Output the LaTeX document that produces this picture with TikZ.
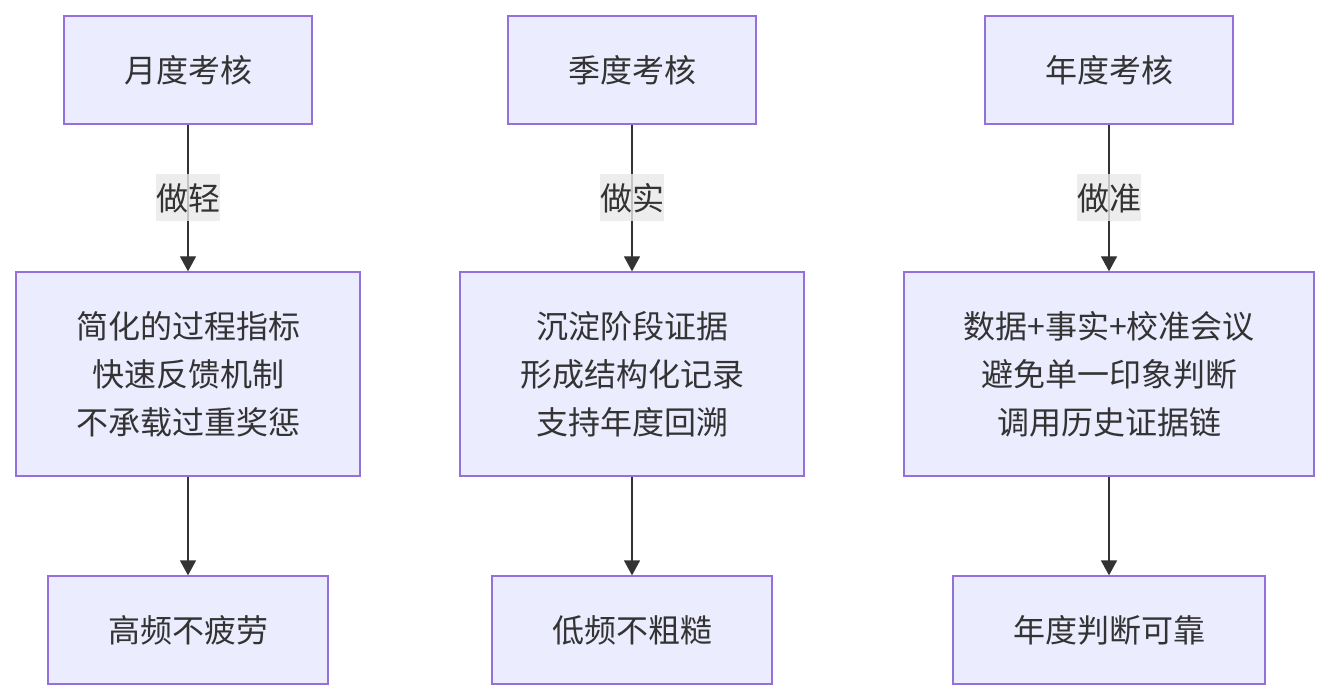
\documentclass[tikz,border=0pt]{standalone}
\usepackage{fontspec}
\setmainfont{Noto Sans CJK SC}
\usetikzlibrary{arrows.meta}
\definecolor{boxfill}{HTML}{ECECFF}
\definecolor{boxline}{HTML}{9370DB}
\definecolor{ink}{HTML}{333333}
\definecolor{lblbg}{HTML}{E8E8E8}
\begin{document}
\begin{tikzpicture}[x=1pt,y=-1pt,
  box/.style={draw=boxline,fill=boxfill,line width=1.3pt,inner sep=0pt,
    text=ink,font=\fontsize{32}{48}\selectfont,align=center,minimum height=108pt},
  tall/.style={minimum height=204pt},
  lbl/.style={fill=lblbg,fill opacity=0.8,text opacity=1,text=ink,inner sep=0pt,
    minimum width=64pt,minimum height=47pt,font=\fontsize{32}{36}\selectfont},
  arr/.style={draw=ink,line width=1.3pt,-{Triangle[length=15pt,width=16pt]}}]
\useasboundingbox (0,0) rectangle (1329,700);
% column 1
\node[box,minimum width=248pt] (m1) at (188,70) {月度考核};
\node[box,tall,minimum width=344pt] (m2) at (188,374) {简化的过程指标\\快速反馈机制\\不承载过重奖惩};
\node[box,minimum width=280pt] (m3) at (188,630) {高频不疲劳};
% column 2
\node[box,minimum width=248pt] (q1) at (632,70) {季度考核};
\node[box,tall,minimum width=344pt] (q2) at (632,374) {沉淀阶段证据\\形成结构化记录\\支持年度回溯};
\node[box,minimum width=280pt] (q3) at (632,630) {低频不粗糙};
% column 3
\node[box,minimum width=248pt] (y1) at (1109,70) {年度考核};
\node[box,tall,minimum width=410pt] (y2) at (1109,374) {数据+事实+校准会议\\避免单一印象判断\\调用历史证据链};
\node[box,minimum width=312pt] (y3) at (1109,630) {年度判断可靠};
% edges
\draw[arr] (m1) -- (m2);
\draw[arr] (m2) -- (m3);
\draw[arr] (q1) -- (q2);
\draw[arr] (q2) -- (q3);
\draw[arr] (y1) -- (y2);
\draw[arr] (y2) -- (y3);
% edge labels
\node[lbl] (lm) at (188,198) {做轻};
\node[lbl] (lq) at (632,198) {做实};
\node[lbl] (ly) at (1109,198) {做准};
\end{tikzpicture}
\end{document}
